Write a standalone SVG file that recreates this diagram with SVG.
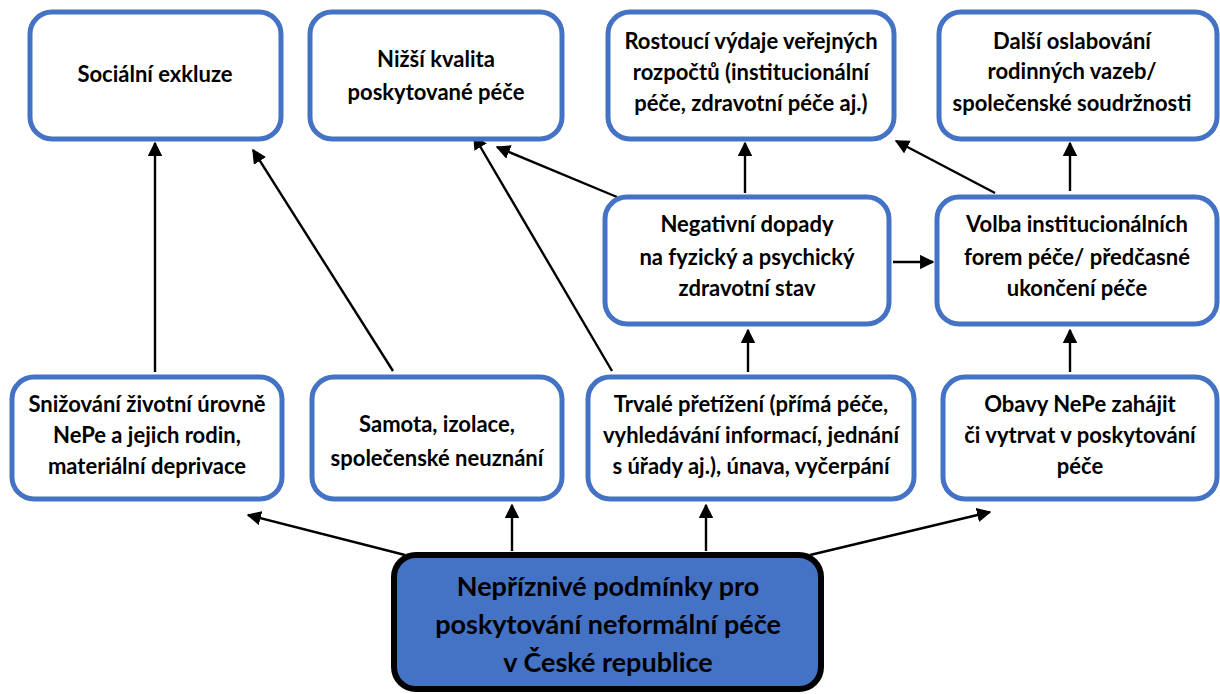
<svg xmlns="http://www.w3.org/2000/svg" width="1220" height="694" viewBox="0 0 1220 694">
<defs>
<marker id="ah" viewBox="0 0 10 10" refX="9" refY="5" markerWidth="6" markerHeight="6" orient="auto" markerUnits="strokeWidth">
<path d="M0,0 L10,5 L0,10 z" fill="#000"/>
</marker>
<style>
.box{fill:#fff;stroke:#4472C4;stroke-width:5}
.main{fill:#4472C4;stroke:#000;stroke-width:6}
text{font-family:Lato,"Open Sans","Liberation Sans",sans-serif;font-weight:bold;font-size:22px;fill:#000;text-anchor:middle}
.big{font-size:27px}
.c line{stroke:#000;stroke-width:2.4;marker-end:url(#ah)}
</style>
</defs>
<rect width="1220" height="694" fill="#fff"/>
<g class="c" id="connectors">
<line x1="155" y1="372" x2="155" y2="143"/>
<line x1="393" y1="371" x2="253" y2="150"/>
<line x1="612" y1="371" x2="474" y2="136"/>
<line x1="617" y1="197" x2="497" y2="147"/>
<line x1="745" y1="193" x2="745" y2="143"/>
<line x1="995" y1="193" x2="896" y2="141"/>
<line x1="1070" y1="191" x2="1070" y2="143"/>
<line x1="893" y1="262" x2="933" y2="262"/>
<line x1="748" y1="372" x2="748" y2="330"/>
<line x1="1070" y1="372" x2="1070" y2="330"/>
<line x1="405" y1="555" x2="248" y2="515"/>
<line x1="512" y1="551" x2="512" y2="505"/>
<line x1="706" y1="551" x2="706" y2="505"/>
<line x1="810" y1="555" x2="990" y2="512"/>
</g>
<g id="n1"><rect class="box" x="30" y="12" width="251" height="127" rx="22"/>
<text x="155" y="82">Sociální exkluze</text></g>
<g id="n2"><rect class="box" x="310" y="12" width="252" height="127" rx="22"/>
<text x="436" y="67">Nižší kvalita</text><text x="436" y="100">poskytované péče</text></g>
<g id="n3"><rect class="box" x="608" y="12" width="286" height="127" rx="22"/>
<text x="751" y="49">Rostoucí výdaje veřejných</text><text x="751" y="80">rozpočtů (institucionální</text><text x="751" y="111">péče, zdravotní péče aj.)</text></g>
<g id="n4"><rect class="box" x="939" y="12" width="278" height="127" rx="22"/>
<text x="1072" y="49">Další oslabování</text><text x="1072" y="79">rodinných vazeb/</text><text x="1072" y="111">společenské soudržnosti</text></g>
<g id="n5"><rect class="box" x="605" y="197" width="284" height="127" rx="22"/>
<text x="747" y="232">Negativní dopady</text><text x="747" y="265">na fyzický a psychický</text><text x="747" y="296">zdravotní stav</text></g>
<g id="n6"><rect class="box" x="937" y="197" width="280" height="127" rx="22"/>
<text x="1077" y="232">Volba institucionálních</text><text x="1077" y="265">forem péče/ předčasné</text><text x="1077" y="296">ukončení péče</text></g>
<g id="n7"><rect class="box" x="12" y="377" width="270" height="122" rx="22"/>
<text x="147" y="412">Snižování životní úrovně</text><text x="147" y="443">NePe a jejich rodin,</text><text x="147" y="474">materiální deprivace</text></g>
<g id="n8"><rect class="box" x="312" y="377" width="250" height="122" rx="22"/>
<text x="437" y="432">Samota, izolace,</text><text x="437" y="466">společenské neuznání</text></g>
<g id="n9"><rect class="box" x="588" y="377" width="326" height="122" rx="22"/>
<text x="751" y="412">Trvalé přetížení (přímá péče,</text><text x="751" y="443">vyhledávání informací, jednání</text><text x="751" y="474">s úřady aj.), únava, vyčerpání</text></g>
<g id="n10"><rect class="box" x="943" y="377" width="274" height="122" rx="22"/>
<text x="1080" y="412">Obavy NePe zahájit</text><text x="1080" y="443">či vytrvat v poskytování</text><text x="1080" y="474">péče</text></g>
<g id="n11"><rect class="main" x="394" y="555" width="427" height="134" rx="22"/>
<text class="big" x="608" y="596">Nepříznivé podmínky pro</text><text class="big" x="608" y="634">poskytování neformální péče</text><text class="big" x="608" y="672">v České republice</text></g>
</svg>
